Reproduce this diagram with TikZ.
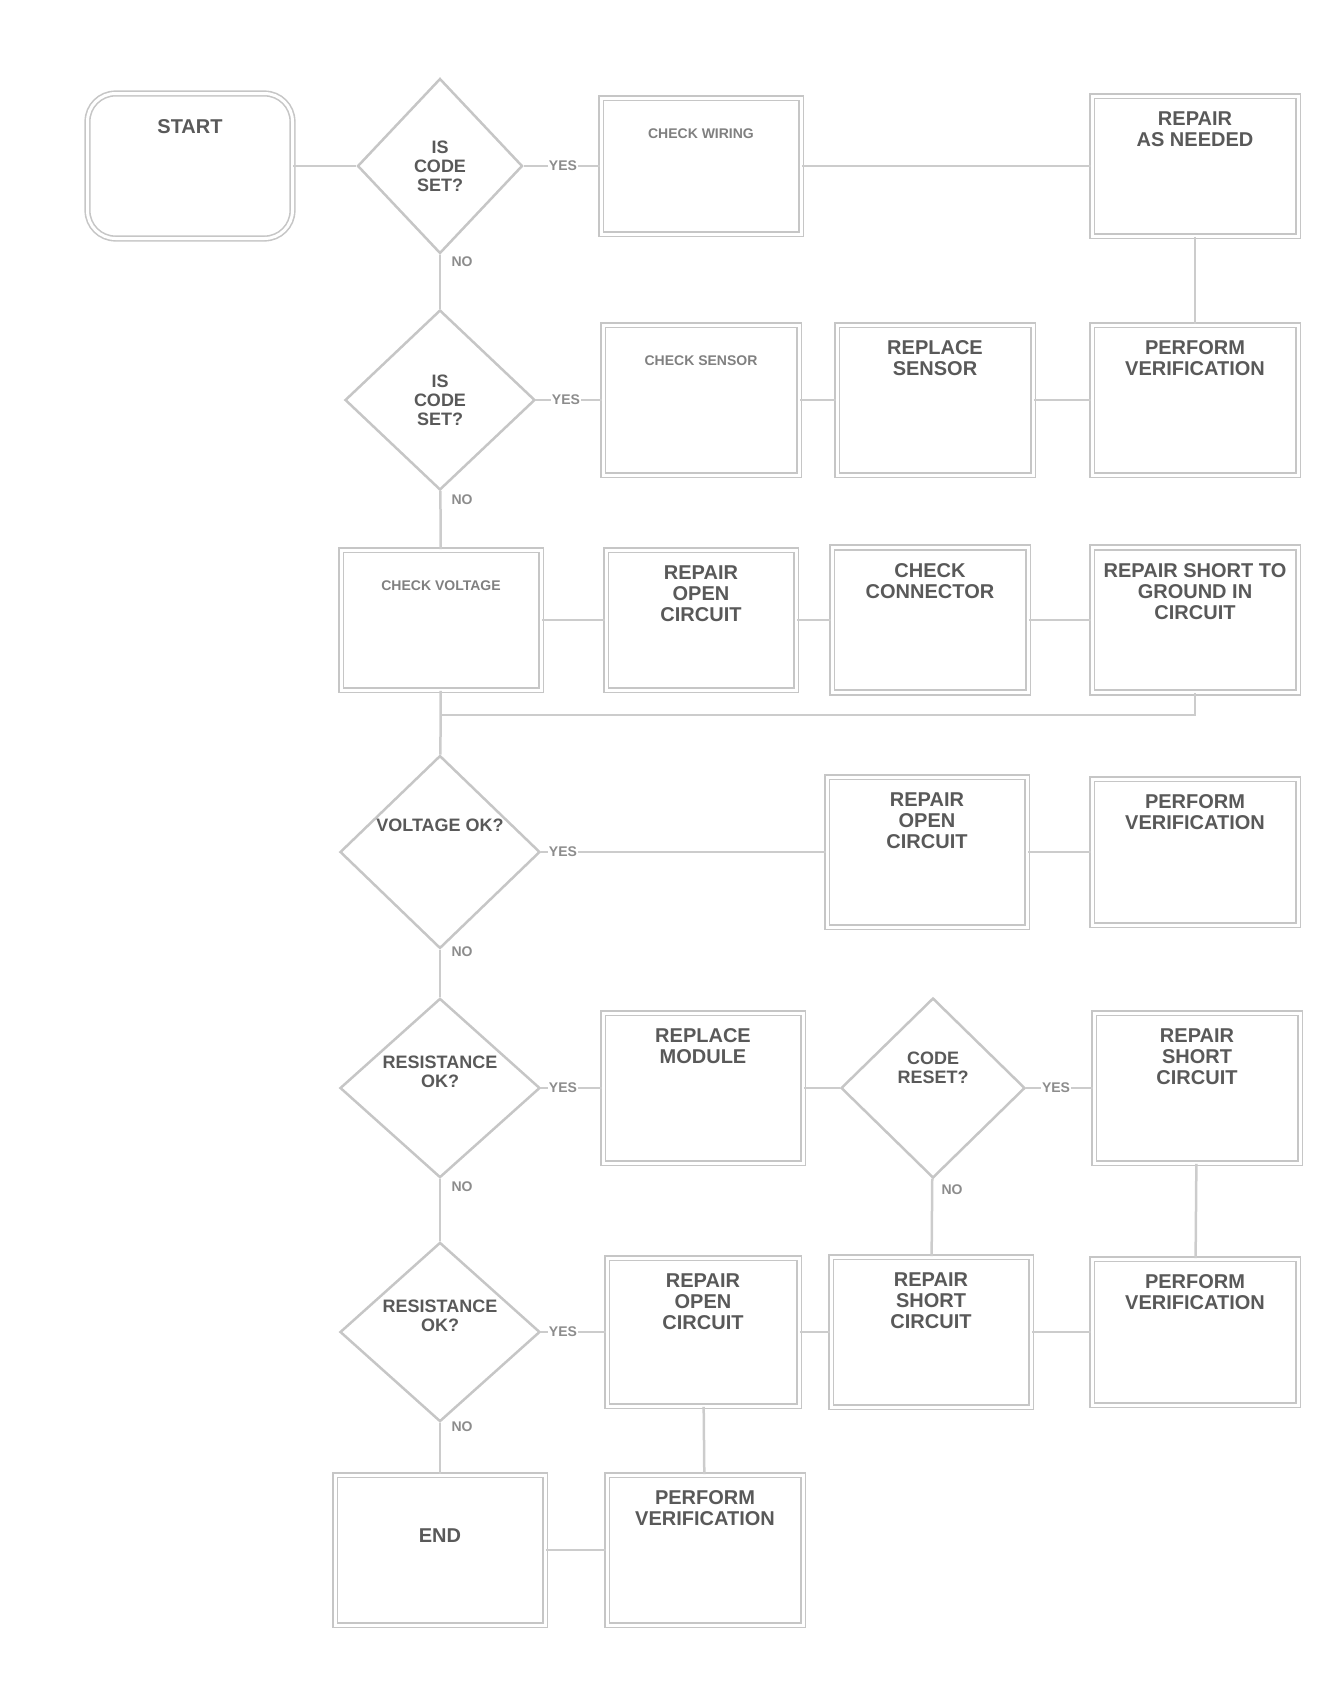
\documentclass[tikz,border=0pt]{standalone}
\usepackage{fontspec}
\setmainfont{Liberation Sans}
\usetikzlibrary{shapes.geometric}
\begin{document}
\begin{tikzpicture}[x=1pt,y=-1pt,
  frame/.style={draw=gray!45, line width=1.6pt, double=white, double distance=3pt, inner sep=0pt},
  box/.style={frame, rectangle, minimum width=#1, minimum height=145pt},
  box/.default=200pt,
  dec/.style={draw=gray!45, line width=2.5pt, diamond, inner sep=0pt, align=center,
    font=\fontsize{18}{19}\selectfont\bfseries, text=black!65},
  txt/.style={font=\fontsize{20}{21}\selectfont\bfseries, text=black!65, align=center, anchor=north, yshift=-13pt},
  ltxt/.style={font=\fontsize{14}{15}\selectfont\bfseries, text=black!50, align=center, anchor=north, yshift=-28pt},
  yn/.style={font=\fontsize{14}{15}\selectfont\bfseries, text=black!45, inner sep=1pt},
  conn/.style={draw=gray!40, line width=2.5pt}]
\useasboundingbox (0,0) rectangle (1335,1698);

% row 1
\node[frame, rounded corners=28pt, minimum width=205pt, minimum height=145pt,
  label={[txt, yshift=-10pt]north:START}] (start) at (190,166) {};
\node[dec, minimum width=165pt, minimum height=175pt] (d1) at (440,166) {IS\\CODE\\SET?};
\node[box, minimum height=136pt, label={[ltxt]north:CHECK WIRING}] (b1) at (701,166) {};
\node[box=206pt, minimum height=140pt, label={[txt]north:REPAIR\\AS NEEDED}] (e1) at (1195,166) {};

% row 2
\node[dec, minimum width=190pt, minimum height=180pt] (d2) at (440,400) {IS\\CODE\\SET?};
\node[box=196pt, minimum height=150pt, label={[ltxt]north:CHECK SENSOR}] (b2) at (701,400) {};
\node[box=196pt, minimum height=150pt, label={[txt]north:REPLACE\\SENSOR}] (c2) at (935,400) {};
\node[box=206pt, minimum height=150pt, label={[txt]north:PERFORM\\VERIFICATION}] (e2) at (1195,400) {};

% row 3
\node[box, minimum height=140pt, label={[ltxt]north:CHECK VOLTAGE}] (a3) at (441,620) {};
\node[box=190pt, minimum height=140pt, label={[txt]north:REPAIR\\OPEN\\CIRCUIT}] (b3) at (701,620) {};
\node[box=196pt, label={[txt]north:CHECK\\CONNECTOR}] (c3) at (930,620) {};
\node[box=206pt, label={[txt]north:REPAIR SHORT TO\\GROUND IN\\CIRCUIT}] (e3) at (1195,620) {};
\coordinate (jn) at (440,715);

% row 4
\node[dec, minimum width=200pt, minimum height=176pt] (d4) at (440,852) {VOLTAGE OK?\\[34pt]};
\node[box, minimum height=150pt, label={[txt]north:REPAIR\\OPEN\\CIRCUIT}] (c4) at (927,852) {};
\node[box=206pt, minimum height=146pt, label={[txt]north:PERFORM\\VERIFICATION}] (e4) at (1195,852) {};

% row 5
\node[dec, minimum width=200pt, minimum height=170pt] (d5) at (440,1088) {RESISTANCE\\OK?\\[14pt]};
\node[box, minimum height=150pt, label={[txt]north:REPLACE\\MODULE}] (b5) at (703,1088) {};
\node[dec, minimum width=184pt, minimum height=180pt] (dd5) at (933,1088) {CODE\\RESET?\\[22pt]};
\node[box=206pt, minimum height=150pt, label={[txt]north:REPAIR\\SHORT\\CIRCUIT}] (e5) at (1197,1088) {};

% row 6
\node[dec, minimum width=200pt, minimum height=170pt] (d6) at (440,1332) {RESISTANCE\\OK?\\[14pt]};
\node[box=192pt, minimum height=148pt, label={[txt]north:REPAIR\\OPEN\\CIRCUIT}] (b6) at (703,1332) {};
\node[box, minimum height=150pt, label={[txt]north:REPAIR\\SHORT\\CIRCUIT}] (c6) at (931,1332) {};
\node[box=206pt, minimum height=146pt, label={[txt]north:PERFORM\\VERIFICATION}] (e6) at (1195,1332) {};

% row 7
\node[box=210pt, minimum height=150pt, label={[txt, yshift=-38pt]north:END}] (a7) at (440,1550) {};
\node[box=196pt, minimum height=150pt, label={[txt]north:PERFORM\\VERIFICATION}] (b7) at (705,1550) {};

% yes / no labels
\node[yn] (y1) at (563,166) {YES};
\node[yn] (n1) at (462,262) {NO};
\node[yn] (y2) at (566,400) {YES};
\node[yn] (n2) at (462,500) {NO};
\node[yn] (y4) at (563,852) {YES};
\node[yn] (n4) at (462,952) {NO};
\node[yn] (y5) at (563,1088) {YES};
\node[yn] (y5c) at (1056,1088) {YES};
\node[yn] (n5c) at (952,1190) {NO};
\node[yn] (n5) at (462,1187) {NO};
\node[yn] (y6) at (563,1332) {YES};
\node[yn] (n6) at (462,1427) {NO};

% connectors
\draw[conn] (start) -- (d1);
\draw[conn] (d1) -- (y1) -- (b1);
\draw[conn] (b1) -- (e1);
\draw[conn] (e1) -- (e2);
\draw[conn] (d1) -- (d2);
\draw[conn] (d2) -- (y2) -- (b2);
\draw[conn] (b2) -- (c2);
\draw[conn] (c2) -- (e2);
\draw[conn] (d2) -- (a3);
\draw[conn] (a3) -- (b3);
\draw[conn] (b3) -- (c3);
\draw[conn] (c3) -- (e3);
\draw[conn] (a3) -- (d4);
\draw[conn] (e3.south) |- (jn);
\draw[conn] (d4) -- (y4) -- (c4);
\draw[conn] (c4) -- (e4);
\draw[conn] (d4) -- (d5);
\draw[conn] (d5) -- (y5) -- (b5);
\draw[conn] (b5) -- (dd5);
\draw[conn] (dd5) -- (y5c) -- (e5);
\draw[conn] (dd5) -- (c6);
\draw[conn] (e5) -- (e6);
\draw[conn] (d5) -- (d6);
\draw[conn] (d6) -- (y6) -- (b6);
\draw[conn] (b6) -- (c6);
\draw[conn] (c6) -- (e6);
\draw[conn] (b6) -- (b7);
\draw[conn] (d6) -- (a7);
\draw[conn] (a7) -- (b7);
\end{tikzpicture}
\end{document}
